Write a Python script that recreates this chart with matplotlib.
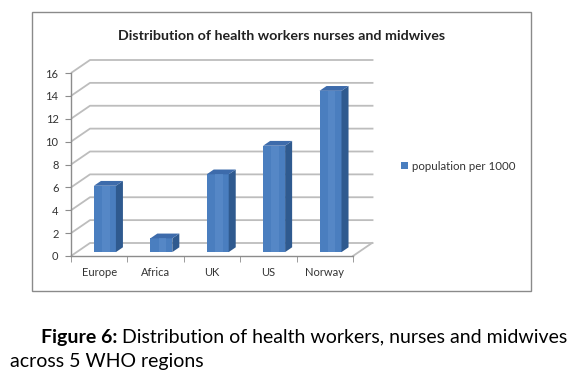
import matplotlib
matplotlib.use("Agg")
import matplotlib.pyplot as plt
from matplotlib.patches import Rectangle, Polygon, Patch
import numpy as np

plt.rcParams['font.family'] = ['Lato', 'DejaVu Sans']

categories = ["Europe", "Africa", "UK", "US", "Norway"]
values = [5.8, 1.2, 6.8, 9.3, 14.1]
yticks = [0, 2, 4, 6, 8, 10, 12, 14, 16]
series_name = "population per 1000"
title = "Distribution of health workers nurses and midwives"

W, H = 581, 381
fig = plt.figure(figsize=(W / 100, H / 100), dpi=100)

def fx(px):
    return px / W

def fy(py):
    return (H - py) / H

# chart frame
fig.patches.append(Rectangle((fx(32), fy(291)), fx(531) - fx(32), fy(12) - fy(291),
                             transform=fig.transFigure, fill=False,
                             edgecolor="#8a8a8a", lw=1.0, zorder=0))

# axes: front plane x -0.5..4.5 at px 71..353, y 0..16 at px 256..73
px_per_cat = (353 - 71) / 5.0
px_per_val = (256 - 73) / 16.0
left_px, right_px, top_px, bot_px = 71, 374, 58, 256
ax = fig.add_axes([fx(left_px), fy(bot_px), fx(right_px) - fx(left_px), fy(top_px) - fy(bot_px)])
ax.set_xlim(-0.5, -0.5 + (right_px - left_px) / px_per_cat)
ax.set_ylim(0, (bot_px - top_px) / px_per_val)
ax.patch.set_visible(False)

DX = 19 / px_per_cat
DY = 13 / px_per_val
xmax_back = ax.get_xlim()[1] - 0.01
grid_c = "#bdbdbd"

# back wall gridlines and side-wall diagonals
for v in yticks:
    ax.plot([-0.5, -0.5 + DX, xmax_back], [v, v + DY, v + DY],
            color=grid_c, lw=1.3, zorder=1, solid_capstyle="butt", clip_on=False)
# floor right edge
n = len(categories)
ax.plot([n - 0.5, n - 0.5 + DX], [0, DY], color=grid_c, lw=1.3, zorder=1, clip_on=False)

# bars
f0, f1 = 0.30, 0.67
bw = 22 / px_per_cat
x = np.arange(n)
xf = x + f0 * DX
base = f0 * DY
front_c = "#4a7ebf"
side_c = "#2f5a8f"
top_c = "#3d6bab"
ax.bar(xf, values, width=bw, bottom=base, color=front_c, edgecolor="none", zorder=3)
# lighter stripe to mimic gradient
ax.bar(xf + bw * 0.05, values, width=bw * 0.35, bottom=base, color="#5a8bc9",
       edgecolor="none", zorder=3.1, alpha=0.7)
d = (f1 - f0) * DX
dd = (f1 - f0) * DY
for xi, v in zip(xf, values):
    xl, xr = xi - bw / 2, xi + bw / 2
    top = base + v
    ax.add_patch(Polygon([(xr, base), (xr, top), (xr + d, top + dd), (xr + d, base + dd)],
                         closed=True, facecolor=side_c, edgecolor="none", zorder=3))
    ax.add_patch(Polygon([(xl, top), (xr, top), (xr + d, top + dd), (xl + d, top + dd)],
                         closed=True, facecolor=top_c, edgecolor="none", zorder=3))

# axes styling
for s in ["top", "right"]:
    ax.spines[s].set_visible(False)
ax.spines["left"].set_bounds(0, 16)
ax.spines["bottom"].set_bounds(-0.5, n - 0.5)
for s in ["left", "bottom"]:
    ax.spines[s].set_color("#8c8c8c")
    ax.spines[s].set_linewidth(1.0)
    ax.spines[s].set_zorder(2)
ax.set_yticks(yticks)
ax.set_yticklabels([str(t) for t in yticks])
ax.set_xticks(x)
ax.set_xticklabels(categories)
ax.set_xticks(np.arange(n + 1) - 0.5, minor=True)
ax.tick_params(axis="x", which="major", length=0, pad=8, labelsize=8, labelcolor="#333333")
ax.tick_params(axis="x", which="minor", length=4, color="#8c8c8c", direction="out")
ax.tick_params(axis="y", length=4, color="#8c8c8c", direction="out", labelsize=8,
               labelcolor="#333333", pad=5)

# title
fig.text(fx(282), fy(36), title, ha="center", va="center", fontsize=10.3,
         fontweight="bold", color="#222222")

# legend
fig.legend(handles=[Patch(facecolor=front_c, edgecolor="none", label=series_name)],
           loc="center left", bbox_to_anchor=(fx(391), fy(166)), frameon=False,
           fontsize=8.3, handlelength=0.6, handleheight=0.6, handletextpad=0.3,
           labelcolor="#333333")

# caption
t1 = fig.text(fx(41), fy(337), "Figure 6:", ha="left", va="center", fontsize=14,
              fontweight="bold", color="black")
fig.canvas.draw()
bb = t1.get_window_extent(renderer=fig.canvas.get_renderer())
fig.text(bb.x1 / W + fx(5), fy(337), "Distribution of health workers, nurses and midwives",
         ha="left", va="center", fontsize=14, color="black")
fig.text(fx(10), fy(362), "across 5 WHO regions", ha="left", va="center",
         fontsize=14, color="black")

fig.savefig("out.png", dpi=100)
